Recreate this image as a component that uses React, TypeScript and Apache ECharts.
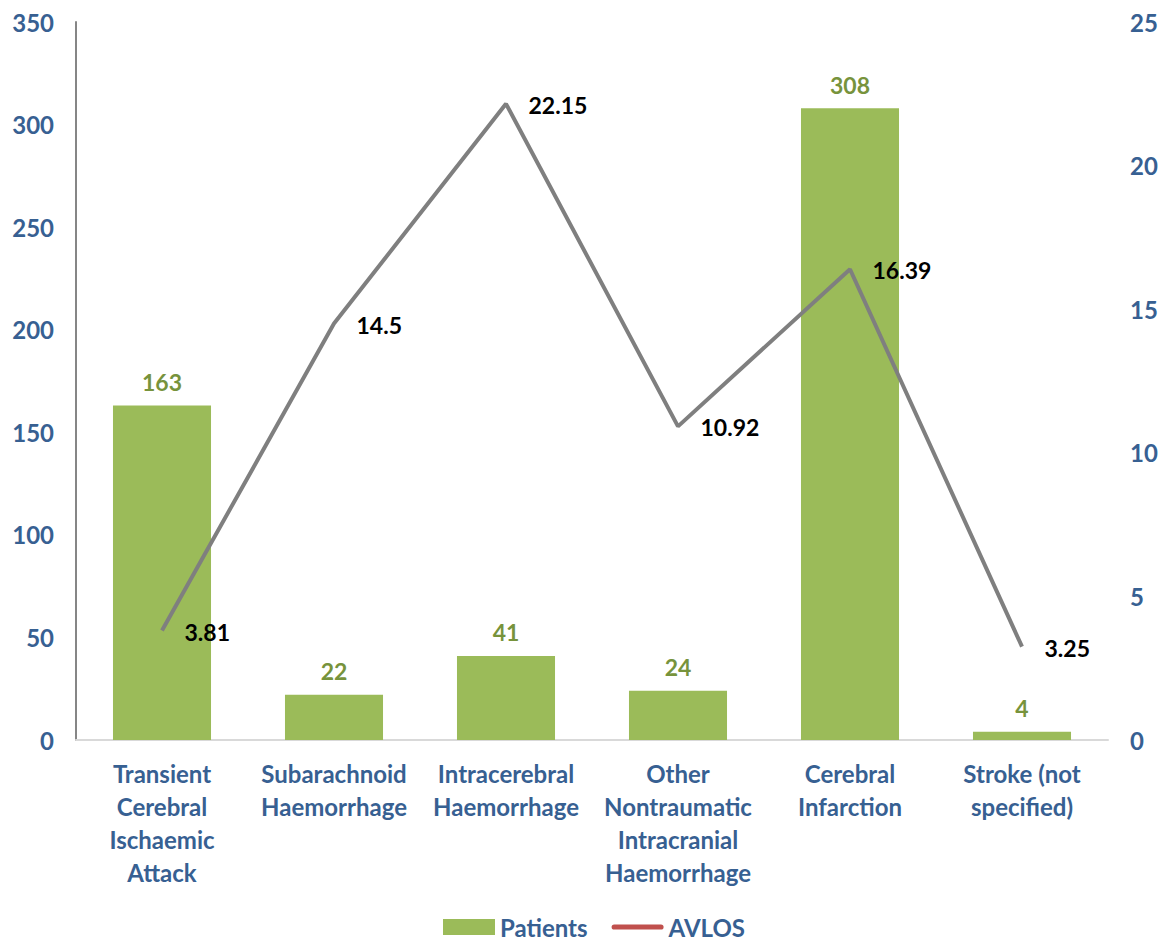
import React, { useEffect, useRef } from "react";
import * as echarts from "echarts";

const categories = [
  "Transient\nCerebral\nIschaemic\nAttack",
  "Subarachnoid\nHaemorrhage",
  "Intracerebral\nHaemorrhage",
  "Other\nNontraumatic\nIntracranial\nHaemorrhage",
  "Cerebral\nInfarction",
  "Stroke (not\nspecified)",
];
const patients = [163, 22, 41, 24, 308, 4];
const avlos = [3.81, 14.5, 22.15, 10.92, 16.39, 3.25];

const FONT = "Lato, 'Open Sans', sans-serif";
const BLUE = "#376092";
const FS = 24;

export default function App() {
  const ref = useRef<HTMLDivElement>(null);
  useEffect(() => {
    const chart = echarts.init(ref.current!, undefined, { renderer: "svg" });
    chart.setOption({
      animation: false,
      textStyle: { fontFamily: FONT },
      grid: { left: 76, right: 61, top: 22, bottom: 201, containLabel: false },
      legend: {
        top: 910,
        left: 438,
        itemWidth: 52,
        itemHeight: 16,
        itemGap: 24,
        textStyle: { color: BLUE, fontSize: FS, fontWeight: "bold", fontFamily: FONT },
        data: [
          { name: "Patients", icon: "rect" },
          {
            name: "AVLOS",
            icon: "path://M5,0 H95 A5,5 0 0 1 95,10 H5 A5,5 0 0 1 5,0 Z",
            itemStyle: { color: "#C0504D", opacity: 1 },
          },
        ],
      },
      xAxis: {
        type: "category",
        data: categories,
        axisLine: { lineStyle: { color: "#D9D9D9", width: 2 } },
        axisTick: { show: false },
        axisLabel: {
          color: BLUE,
          fontSize: FS,
          fontWeight: "bold",
          fontFamily: FONT,
          lineHeight: 33,
          margin: 17,
          interval: 0,
        },
      },
      yAxis: [
        {
          type: "value",
          min: 0,
          max: 350,
          interval: 50,
          splitLine: { show: false },
          axisLine: { show: true, lineStyle: { color: "#868686", width: 2 } },
          axisTick: { show: false },
          axisLabel: { color: BLUE, fontSize: FS, fontWeight: "bold", fontFamily: FONT, margin: 22 },
        },
        {
          type: "value",
          min: 0,
          max: 25,
          interval: 5,
          splitLine: { show: false },
          axisLine: { show: false },
          axisTick: { show: false },
          axisLabel: { color: BLUE, fontSize: FS, fontWeight: "bold", fontFamily: FONT, margin: 22 },
        },
      ],
      series: [
        {
          name: "Patients",
          type: "bar",
          data: patients,
          barWidth: "57%",
          itemStyle: { color: "#9BBB59" },
          label: {
            show: true,
            position: "top",
            distance: 12,
            color: "#77933C",
            fontSize: 23,
            fontWeight: "bold",
            fontFamily: FONT,
          },
        },
        {
          name: "AVLOS",
          type: "line",
          yAxisIndex: 1,
          data: avlos,
          symbol: "circle",
          symbolSize: 1,
          showSymbol: true,
          lineStyle: { color: "#7F7F7F", width: 4 },
          itemStyle: { color: "rgba(127,127,127,0)" },
          label: {
            show: true,
            position: "right",
            distance: 22,
            offset: [0, 1],
            color: "#000000",
            fontSize: 23,
            fontWeight: "bold",
            fontFamily: FONT,
          },
        },
      ],
    });
    return () => chart.dispose();
  }, []);
  return (
    <div
      ref={ref}
      style={{ position: "absolute", left: 0, top: 0, width: 1169, height: 941 }}
    />
  );
}
